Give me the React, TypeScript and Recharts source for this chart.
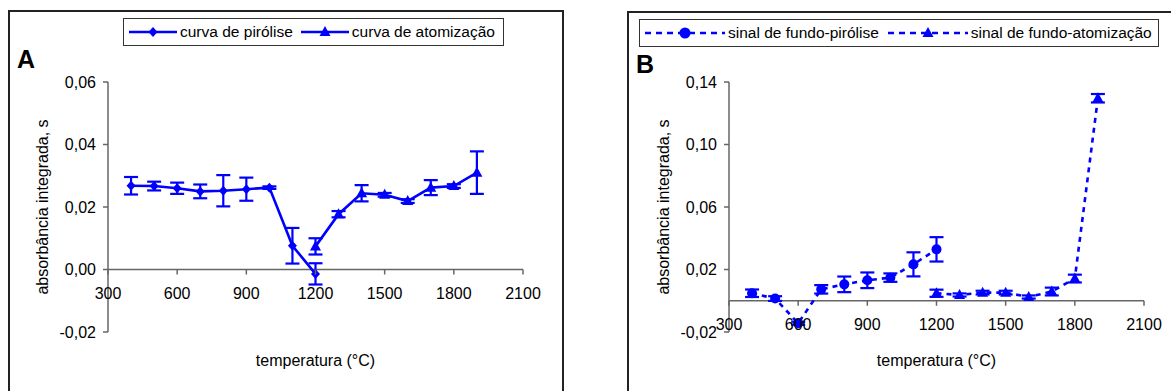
import React from 'react';
import { LineChart, Line, XAxis, YAxis, ErrorBar, ReferenceLine, Legend } from 'recharts';

// temperatures (°C)
const tempPirolise = [400, 500, 600, 700, 800, 900, 1000, 1100, 1200];
const tempAtomizacao = [1200, 1300, 1400, 1500, 1600, 1700, 1800, 1900];

// panel A: absorbância integrada
const pirolise = [0.0268, 0.0267, 0.026, 0.025, 0.0252, 0.0257, 0.0262, 0.0076, -0.0014];
const piroliseErr = [0.0028, 0.0014, 0.0018, 0.0022, 0.005, 0.0037, 0.0004, 0.0057, 0.0034];
const atomizacao = [0.0074, 0.0177, 0.0244, 0.0239, 0.0219, 0.0262, 0.0267, 0.031];
const atomizacaoErr = [0.0026, 0.001, 0.0026, 0.0006, 0.0006, 0.0024, 0.0006, 0.0068];

// panel B: sinal de fundo
const fundoPirolise = [0.0048, 0.0014, -0.0144, 0.0073, 0.0105, 0.0131, 0.0148, 0.0233, 0.0329];
const fundoPiroliseErr = [0.0024, 0.0015, 0.001, 0.0027, 0.005, 0.005, 0.0027, 0.0077, 0.0078];
const fundoAtomizacao = [0.0048, 0.0037, 0.0052, 0.0052, 0.0024, 0.0059, 0.0142, 0.1296];
const fundoAtomizacaoErr = [0.0023, 0.001, 0.0012, 0.0012, 0.001, 0.0025, 0.0025, 0.0027];

const xTicks = [300, 600, 900, 1200, 1500, 1800, 2100];
const yTicksA = [-0.02, 0, 0.02, 0.04, 0.06];
const yTicksB = [-0.02, 0.02, 0.06, 0.1, 0.14];

const legendA = ['curva de pirólise', 'curva de atomização'];
const legendB = ['sinal de fundo-pirólise', 'sinal de fundo-atomização'];

const FONT = '"Liberation Sans", Arial, sans-serif';
const FS = 16;
const BLUE = '#0000ff';
const AXIS = '#666666';
const CHART_H = 391;
const PLOT_TOP = 82;
const PLOT_BOTTOM = 332;
const PLOT_H = PLOT_BOTTOM - PLOT_TOP;

const rows = (t: number[], v: number[], e: number[]) =>
   t.map((temp, i) => ({ t: temp, v: v[i], err: e[i] }));

const fmt = (v: number) => v.toFixed(2).replace('.', ',');

const diamond = (p: any) => (
   <path key={`d${p.index}`} d={`M${p.cx},${p.cy - 5} L${p.cx + 4.5},${p.cy} L${p.cx},${p.cy + 5} L${p.cx - 4.5},${p.cy} Z`} fill={BLUE} />
);
const triangle = (p: any) => (
   <path key={`t${p.index}`} d={`M${p.cx},${p.cy - 6} L${p.cx + 5.5},${p.cy + 4} L${p.cx - 5.5},${p.cy + 4} Z`} fill={BLUE} />
);
const circle = (p: any) => <circle key={`c${p.index}`} cx={p.cx} cy={p.cy} r={5} fill={BLUE} />;

// x ticks drawn on the zero line, not at the bottom of the plot
const makeXTick = (zeroOffset: number) => (props: any) => {
   const { x, y, payload } = props;
   const y0 = y - zeroOffset;
   return (
      <g>
         <line x1={x} x2={x} y1={y0} y2={y0 + 5} stroke={AXIS} strokeWidth={1.5} />
         <text x={x} y={y0 + 29} textAnchor="middle" fontSize={FS} fill="#000" fontFamily={FONT}>
            {payload.value}
         </text>
      </g>
   );
};

const LegendIcon = ({ marker, dashed, w }: { marker: string; dashed: boolean; w: number }) => (
   <svg width={w} height={14} style={{ display: 'block' }}>
      <line x1={0} x2={w} y1={7} y2={7} stroke={BLUE} strokeWidth={2.5} strokeDasharray={dashed ? '6 5' : undefined} />
      {marker === 'diamond' && <path d={`M${w / 2},2 L${w / 2 + 4.5},7 L${w / 2},12 L${w / 2 - 4.5},7 Z`} fill={BLUE} />}
      {marker === 'triangle' && <path d={`M${w / 2},1 L${w / 2 + 5.5},11 L${w / 2 - 5.5},11 Z`} fill={BLUE} />}
      {marker === 'circle' && <circle cx={w / 2} cy={7} r={5.5} fill={BLUE} />}
   </svg>
);

const LegendBox = ({ labels, markers, dashed, iconW, gap, padR }: any) => (
   <div style={{
      display: 'flex', alignItems: 'center', border: '1px solid #333', height: 26, padding: `0 ${padR}px 0 5px`,
      background: '#fff', fontFamily: FONT, fontSize: 15.5, color: '#000', whiteSpace: 'nowrap',
   }}>
      {labels.map((l: string, i: number) => (
         <div key={l} style={{ display: 'flex', alignItems: 'center', marginLeft: i ? gap : 0 }}>
            <LegendIcon marker={markers[i]} dashed={dashed} w={iconW} />
            <span style={{ marginLeft: 3 }}>{l}</span>
         </div>
      ))}
   </div>
);

const Panel = ({ yTicks, yDomain, left, width, marginLeft, series, legend }: any) => {
   const zeroOffset = PLOT_H * (0 - yDomain[0]) / (yDomain[1] - yDomain[0]);
   const axisX = 108;
   return (
      <div style={{ position: 'absolute', left, top: 0 }}>
         <LineChart width={width} height={CHART_H} margin={{ top: PLOT_TOP, right: width - axisX - 415 - (marginLeft - 37), left: marginLeft, bottom: CHART_H - PLOT_BOTTOM - 1 }}>
            <XAxis type="number" dataKey="t" domain={[300, 2100]} ticks={xTicks} allowDataOverflow
               axisLine={false} tickLine={false} tickSize={0} tickMargin={0} height={1}
               tick={makeXTick(zeroOffset)} interval={0}
               label={{ value: 'temperatura (°C)', position: 'bottom', offset: 22, fill: '#000', fontSize: FS, fontFamily: FONT }} />
            <YAxis type="number" domain={yDomain} ticks={yTicks} width={71} allowDataOverflow interval={0}
               tickFormatter={fmt} tickSize={5} tickMargin={7}
               axisLine={{ stroke: AXIS, strokeWidth: 1.5 }} tickLine={{ stroke: AXIS, strokeWidth: 1.5 }}
               tick={{ fill: '#000', fontSize: FS, fontFamily: FONT }}
               label={{ value: 'absorbância integrada, s', angle: -90, position: 'insideLeft', offset: 5, fill: '#000', fontSize: FS, fontFamily: FONT, style: { textAnchor: 'middle' } }} />
            <ReferenceLine y={0} stroke={AXIS} strokeWidth={1.5} />
            {series.map((s: any) => (
               <Line key={s.name} data={s.data} dataKey="v" name={s.name} stroke={BLUE} strokeWidth={2.6}
                  strokeDasharray={s.dashed ? '5 5' : undefined} dot={s.dot} activeDot={false} isAnimationActive={false}>
                  <ErrorBar dataKey="err" width={7} stroke={BLUE} strokeWidth={2.2} direction="y" />
               </Line>
            ))}
            <Legend layout="horizontal" verticalAlign="middle" align="center"
               wrapperStyle={{ top: legend.top, left: legend.left, width: 'auto' }}
               content={() => legend.node} />
         </LineChart>
      </div>
   );
};

export default function App() {
   const seriesA = [
      { name: legendA[0], data: rows(tempPirolise, pirolise, piroliseErr), dot: diamond },
      { name: legendA[1], data: rows(tempAtomizacao, atomizacao, atomizacaoErr), dot: triangle },
   ];
   const seriesB = [
      { name: legendB[0], data: rows(tempPirolise, fundoPirolise, fundoPiroliseErr), dot: circle, dashed: true },
      { name: legendB[1], data: rows(tempAtomizacao, fundoAtomizacao, fundoAtomizacaoErr), dot: triangle, dashed: true },
   ];
   return (
      <div style={{ position: 'absolute', left: 0, top: 0, width: 1171, height: 391, overflow: 'hidden', background: '#fff', fontFamily: FONT }}>
         <div style={{ position: 'absolute', left: 8, top: 10, width: 552, height: 420, border: '2px solid #222' }} />
         <div style={{ position: 'absolute', left: 627, top: 11, width: 600, height: 420, border: '2px solid #222' }} />
         <div style={{ position: 'absolute', left: 17, top: 45, fontSize: 25, fontWeight: 'bold', fontFamily: FONT }}>A</div>
         <div style={{ position: 'absolute', left: 636, top: 50, fontSize: 25, fontWeight: 'bold', fontFamily: FONT }}>B</div>
         <Panel yTicks={yTicksA} yDomain={[-0.02, 0.06]} left={0} width={600} marginLeft={37} series={seriesA}
            legend={{ top: 18, left: 123, node: <LegendBox labels={legendA} markers={['diamond', 'triangle']} dashed={false} iconW={48} gap={8} padR={8} /> }} />
         <Panel yTicks={yTicksB} yDomain={[-0.02, 0.14]} left={621} width={550} marginLeft={37} series={seriesB}
            legend={{ top: 19, left: 18, node: <LegendBox labels={legendB} markers={['circle', 'triangle']} dashed={true} iconW={80} gap={9} padR={6} /> }} />
      </div>
   );
}
